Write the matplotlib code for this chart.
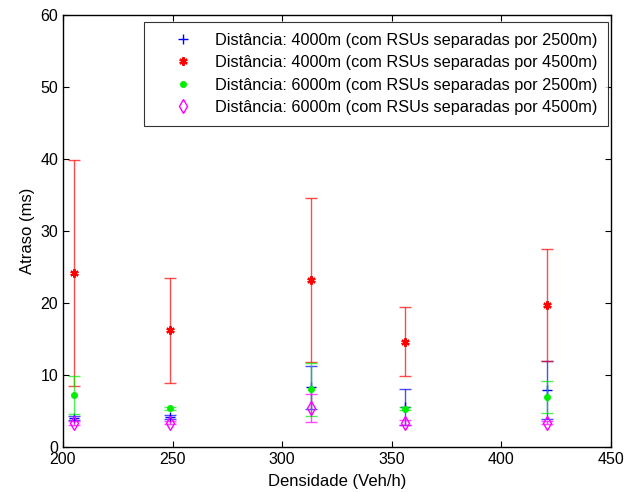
import numpy as np
import matplotlib
matplotlib.use("Agg")
import matplotlib.pyplot as plt

plt.rcParams["font.family"] = ["Liberation Sans", "DejaVu Sans"]
plt.rcParams["font.size"] = 11

# densidade (Veh/h)
x = [205, 249, 313, 356, 421]

# atraso medio (ms) e meia-largura do intervalo
d4000_2500 = [4.0, 4.2, 8.3, 5.5, 7.9]
e4000_2500 = [0.3, 0.3, 3.0, 2.5, 4.0]
d4000_4500 = [24.2, 16.2, 23.2, 14.6, 19.7]
e4000_4500 = [15.7, 7.3, 11.4, 4.8, 7.8]
d6000_2500 = [7.2, 5.4, 8.0, 5.3, 6.9]
e6000_2500 = [2.6, 0.2, 3.7, 0.2, 2.2]
d6000_4500 = [3.3, 3.4, 5.4, 3.4, 3.4]
e6000_4500 = [0.3, 0.2, 1.9, 0.3, 0.2]

labels = ["Distância: 4000m (com RSUs separadas por 2500m)",
          "Distância: 4000m (com RSUs separadas por 4500m)",
          "Distância: 6000m (com RSUs separadas por 2500m)",
          "Distância: 6000m (com RSUs separadas por 4500m)"]

fig = plt.figure(figsize=(6.26, 4.92), dpi=100)
ax = fig.add_axes([0.1006, 0.0915, 0.8754, 0.878])

series = [
    (d4000_2500, e4000_2500, "#0000ff", "+", dict(ms=7, mew=1.0, mfc="#0000ff")),
    (d4000_4500, e4000_4500, "#ff0000", (6, 2, 0), dict(ms=6, mew=1.6, mfc="#ff0000")),
    (d6000_2500, e6000_2500, "#00ee00", "o", dict(ms=4.5, mew=0.5, mfc="#00ee00")),
    (d6000_4500, e6000_4500, "#ff00ff", "d", dict(ms=7, mew=1.0, mfc="none")),
]
handles = []
for (y, e, c, m, kw), lab in zip(series, labels):
    ax.errorbar(x, y, yerr=e, fmt="none", ecolor=c, elinewidth=1.0,
                capsize=4, capthick=1.0, alpha=0.7)
    h, = ax.plot(x, y, linestyle="none", marker=m, color=c, mec=c, **kw)
    handles.append(h)

ax.set_xlim(200, 450)
ax.set_ylim(0, 60)
ax.set_xticks(np.arange(200, 451, 50))
ax.set_yticks(np.arange(0, 61, 10))
ax.tick_params(direction="in", top=True, right=True, length=4, width=0.8,
               labelsize=11.5)
for s in ax.spines.values():
    s.set_linewidth(1.0)

ax.set_xlabel("Densidade (Veh/h)", fontsize=12, labelpad=5)
ax.set_ylabel("Atraso (ms)", fontsize=12, labelpad=4)

leg = ax.legend(handles, labels, loc="upper right", fontsize=11.7,
                bbox_to_anchor=(608 / 626, 1 - 22 / 492),
                bbox_transform=fig.transFigure, borderaxespad=0,
                frameon=True, fancybox=False, edgecolor="black",
                borderpad=0.65, labelspacing=0.46, handletextpad=0.25,
                handlelength=3.5)
leg.get_frame().set_linewidth(0.8)

fig.savefig("out.png", dpi=100)
